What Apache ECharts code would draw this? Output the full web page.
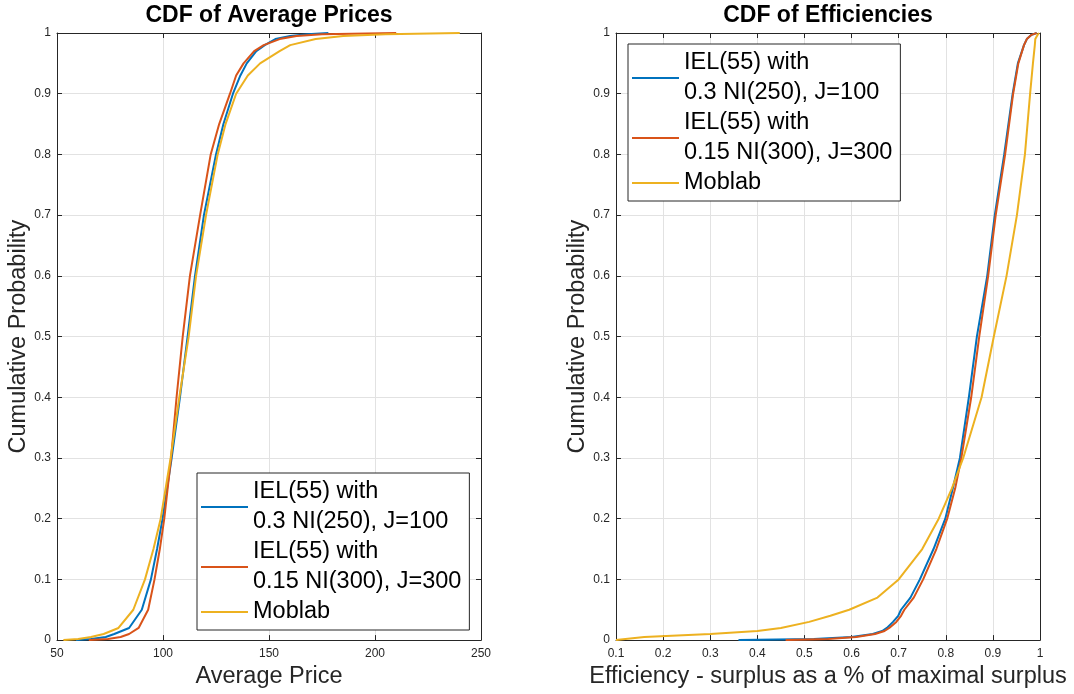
<!DOCTYPE html>
<html>
<head>
<meta charset="utf-8">
<script src="https://cdn.jsdelivr.net/npm/echarts@6/dist/echarts.min.js"></script>
<style>
html, body { margin: 0; padding: 0; background: #fff; }
#chart { width: 1074px; height: 694px; }
</style>
</head>
<body>
<div id="chart"></div>
<script>
// Series labels shared by both panels
const seriesNames = [
  'IEL(55) with\n0.3 NI(250), J=100',
  'IEL(55) with\n0.15 NI(300), J=300',
  'Moblab'
];
const seriesColors = ['#0072BD', '#D95319', '#EDB120'];

// Left panel: empirical CDF of average prices (price reached at each cumulative level)
const priceLevels  = [0, 0.002, 0.005, 0.01, 0.02, 0.05, 0.1, 0.15, 0.2, 0.3, 0.4, 0.5, 0.6, 0.7, 0.8, 0.85, 0.9, 0.93, 0.95, 0.97, 0.98, 0.99, 0.995, 0.998, 1];
const priceJ100    = [59, 66, 73, 77, 84, 90, 94.3, 97.2, 99.8, 104.1, 108, 111.6, 115.1, 119.3, 125, 128.5, 133, 136.5, 139.5, 144, 148, 153, 160, 168, 178];
const priceJ300    = [65, 74, 80, 84, 88.5, 93, 96, 98.5, 100.6, 103.8, 106.4, 109.3, 112.7, 117.5, 122.5, 126.5, 131.6, 134.5, 138, 143, 147.5, 155, 163, 175, 210];
const priceMoblab  = [53, 60, 66, 72, 79, 86, 91.5, 95.5, 98.9, 103.6, 107.7, 112.1, 115.6, 120.3, 125.8, 129.5, 134.5, 140, 145.8, 155, 160, 172, 185, 205, 240];

// Right panel: empirical CDF of efficiencies
const effLevels    = [0, 0.002, 0.005, 0.01, 0.015, 0.02, 0.03, 0.04, 0.05, 0.07, 0.1, 0.15, 0.2, 0.25, 0.3, 0.4, 0.5, 0.6, 0.7, 0.8, 0.9, 0.95, 0.98, 0.99, 0.997, 1];
const effJ100      = [0.36, 0.52, 0.60, 0.645, 0.665, 0.675, 0.688, 0.699, 0.705, 0.725, 0.745, 0.774, 0.799, 0.815, 0.830, 0.849, 0.866, 0.888, 0.904, 0.924, 0.942, 0.953, 0.966, 0.972, 0.982, 0.993];
const effJ300      = [0.46, 0.55, 0.61, 0.65, 0.67, 0.68, 0.695, 0.705, 0.712, 0.732, 0.752, 0.780, 0.803, 0.820, 0.833, 0.854, 0.871, 0.890, 0.906, 0.926, 0.943, 0.954, 0.966, 0.972, 0.982, 0.993];
const effMoblab    = [0.1, 0.12, 0.16, 0.30, 0.40, 0.45, 0.51, 0.555, 0.595, 0.655, 0.700, 0.750, 0.785, 0.813, 0.837, 0.876, 0.902, 0.929, 0.951, 0.968, 0.979, 0.985, 0.989, 0.99, 0.995, 0.998];

// Axis ranges and tick steps
const priceAxis = { min: 50, max: 250, interval: 50 };
const effAxis   = { min: 0.1, max: 1, interval: 0.1 };
const probAxis  = { min: 0, max: 1, interval: 0.1 };

const FONT = '"Liberation Sans", Arial, Helvetica, sans-serif';
const AXIS_COLOR = '#262626';
const GRID_COLOR = '#e2e2e2';

function pairs(xs, levels) {
  return xs.map((x, i) => [x, levels[i]]);
}

function mainAxis(gridIndex, range, position, name, nameGap, rotate) {
  return {
    type: 'value', gridIndex, position,
    min: range.min, max: range.max, interval: range.interval,
    name, nameLocation: 'middle', nameGap, nameRotate: rotate,
    nameTextStyle: { fontFamily: FONT, fontSize: 23.5, color: AXIS_COLOR },
    axisLine: { show: true, onZero: false, lineStyle: { color: AXIS_COLOR, width: 1 } },
    axisTick: { show: true, inside: true, length: 5, lineStyle: { color: AXIS_COLOR } },
    axisLabel: {
      show: true, fontFamily: FONT, fontSize: 12, color: AXIS_COLOR,
      margin: position === 'bottom' ? 8 : 6,
      showMinLabel: true, showMaxLabel: true, hideOverlap: false
    },
    splitLine: { show: true, lineStyle: { color: GRID_COLOR, width: 1 } }
  };
}

function boxAxis(gridIndex, range, position) {
  return {
    type: 'value', gridIndex, position,
    min: range.min, max: range.max, interval: range.interval,
    axisLine: { show: true, onZero: false, lineStyle: { color: AXIS_COLOR, width: 1 } },
    axisTick: { show: true, inside: true, length: 5, lineStyle: { color: AXIS_COLOR } },
    axisLabel: { show: false },
    splitLine: { show: false }
  };
}

function cdfSeries(nameIdx, xIdx, yIdx, xs, levels) {
  return {
    name: seriesNames[nameIdx],
    type: 'line',
    xAxisIndex: xIdx, yAxisIndex: yIdx,
    data: pairs(xs, levels),
    showSymbol: false, symbol: 'none',
    lineStyle: { color: seriesColors[nameIdx], width: 2 },
    itemStyle: { color: seriesColors[nameIdx] },
    emphasis: { disabled: true },
    animation: false
  };
}

function legendAt(left, top) {
  return {
    orient: 'vertical', left, top,
    data: seriesNames,
    icon: 'rect', itemWidth: 47, itemHeight: 2, itemGap: 0,
    padding: [4, 8, 3, 4],
    backgroundColor: '#ffffff',
    borderColor: AXIS_COLOR, borderWidth: 1, borderRadius: 0,
    selectedMode: false,
    textStyle: { fontFamily: FONT, fontSize: 23.5, lineHeight: 30, color: '#000000' }
  };
}

const chart = echarts.init(document.getElementById('chart'), null, { renderer: 'canvas' });

chart.setOption({
  animation: false,
  backgroundColor: '#ffffff',
  grid: [
    { left: 57, top: 33, width: 424, height: 610, containLabel: false },
    { left: 616, top: 33, width: 424, height: 610, containLabel: false }
  ],
  xAxis: [
    mainAxis(0, priceAxis, 'bottom', 'Average Price', 24, 0),
    boxAxis(0, priceAxis, 'top'),
    mainAxis(1, effAxis, 'bottom', 'Efficiency - surplus as a % of maximal surplus', 24, 0),
    boxAxis(1, effAxis, 'top')
  ],
  yAxis: [
    mainAxis(0, probAxis, 'left', 'Cumulative Probability', 22, 90),
    boxAxis(0, probAxis, 'right'),
    mainAxis(1, probAxis, 'left', 'Cumulative Probability', 24, 90),
    boxAxis(1, probAxis, 'right')
  ],
  legend: [legendAt(197, 473), legendAt(628, 44)],
  graphic: [
    { type: 'text', x: 269, y: 16, style: { text: 'CDF of Average Prices', textAlign: 'center', textVerticalAlign: 'middle', font: 'bold 23px ' + FONT, fill: '#000' } },
    { type: 'text', x: 828, y: 16, style: { text: 'CDF of Efficiencies', textAlign: 'center', textVerticalAlign: 'middle', font: 'bold 23px ' + FONT, fill: '#000' } }
  ],
  series: [
    cdfSeries(0, 0, 0, priceJ100, priceLevels),
    cdfSeries(1, 0, 0, priceJ300, priceLevels),
    cdfSeries(2, 0, 0, priceMoblab, priceLevels),
    cdfSeries(0, 2, 2, effJ100, effLevels),
    cdfSeries(1, 2, 2, effJ300, effLevels),
    cdfSeries(2, 2, 2, effMoblab, effLevels)
  ]
});
</script>
</body>
</html>
